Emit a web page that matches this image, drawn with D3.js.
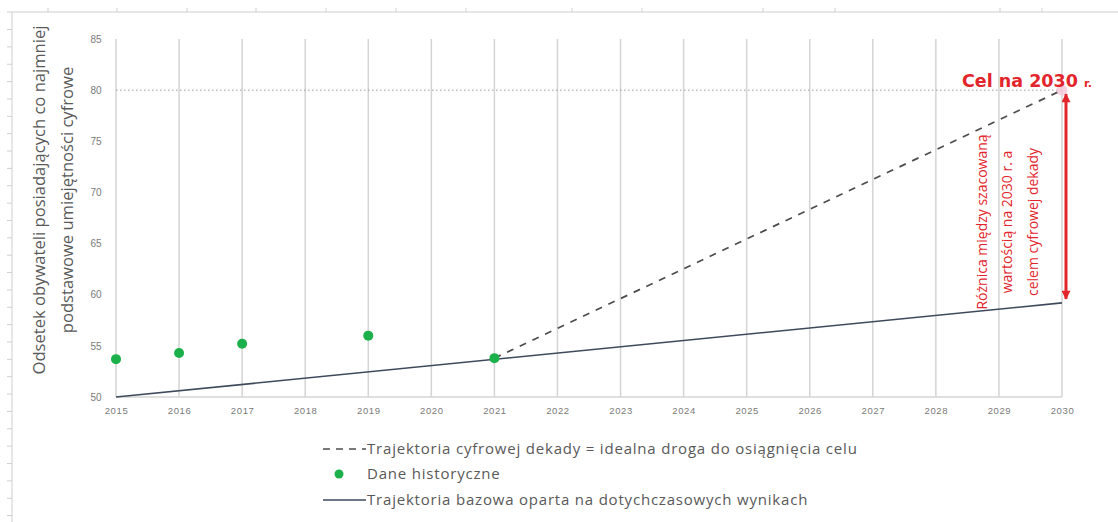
<!DOCTYPE html>
<html>
<head>
<meta charset="utf-8">
<script src="https://cdn.jsdelivr.net/npm/d3@7"></script>
<style>
  html, body { margin: 0; padding: 0; background: #fff; }
  svg { display: block; }
</style>
</head>
<body>
<svg id="chart" width="1118" height="522"></svg>
<script>
// Years on the horizontal axis
const years = d3.range(2015, 2031);
const yTicks = [50, 55, 60, 65, 70, 75, 80, 85];

// Historical observations
const histYears = [2015, 2016, 2017, 2019, 2021];
const histValues = [53.7, 54.3, 55.2, 56.0, 53.8];

// Baseline trajectory (based on results so far)
const baseYears = [2015, 2030];
const baseValues = [50.0, 59.2];

// Digital decade trajectory towards the 2030 target
const decadeYears = [2021, 2030];
const decadeValues = [53.8, 80];

const target = 80;
const targetYear = 2030;

// Spreadsheet frame ruler marks
const rulerX = [48, 117, 187, 256, 326, 396, 466, 572, 642, 763, 835, 1000, 1042];
const rulerRows = d3.range(29);

const svg = d3.select("#chart");
const grey = "#d4d4d4";
const textGrey = "#595959";
const red = "#e3242b";

// Spreadsheet frame
const frame = svg.append("g");
frame.append("line").attr("x1", 7).attr("x2", 1118).attr("y1", 12).attr("y2", 12)
  .attr("stroke", "#dedede").attr("stroke-width", 1.5);
frame.append("line").attr("x1", 12).attr("x2", 12).attr("y1", 12).attr("y2", 522)
  .attr("stroke", "#dedede").attr("stroke-width", 1.5);
frame.selectAll(".rx").data(rulerX).join("line")
  .attr("x1", d => d).attr("x2", d => d).attr("y1", 8).attr("y2", 12)
  .attr("stroke", "#cfcfcf").attr("stroke-width", 1);
frame.selectAll(".ry").data(rulerRows).join("line")
  .attr("x1", 7).attr("x2", 12)
  .attr("y1", i => 29.5 + i * 17.36).attr("y2", i => 29.5 + i * 17.36)
  .attr("stroke", "#cfcfcf").attr("stroke-width", 1);

const x = d3.scaleLinear().domain([2015, 2030]).range([116, 1062]);
const y = d3.scaleLinear().domain([50, 85]).range([397, 39]);

// Vertical gridlines
svg.append("g").selectAll("line").data(years).join("line")
  .attr("x1", d => x(d)).attr("x2", d => x(d))
  .attr("y1", y(85)).attr("y2", y(50))
  .attr("stroke", grey).attr("stroke-width", 1.5);

// Bottom axis line
svg.append("line").attr("x1", x(2015)).attr("x2", x(2030))
  .attr("y1", y(50)).attr("y2", y(50))
  .attr("stroke", grey).attr("stroke-width", 1.5);

// Y axis labels
const yAxis = d3.axisLeft(y).tickValues(yTicks).tickSize(0).tickPadding(0);
const gy = svg.append("g").attr("transform", `translate(${x(2015) - 12},0)`).call(yAxis);
gy.select(".domain").remove();
gy.selectAll("text").attr("fill", "#7a7a7a").style("font-family", "Liberation Sans, Arial, sans-serif")
  .style("font-size", "10px").attr("text-anchor", "middle").attr("dx", "-8");

// X axis labels
const xAxis = d3.axisBottom(x).tickValues(years).tickFormat(d3.format("d")).tickSize(0).tickPadding(10);
const gx = svg.append("g").attr("transform", `translate(0,${y(50)})`).call(xAxis);
gx.select(".domain").remove();
gx.selectAll("text").attr("fill", "#7a7a7a").style("font-family", "Liberation Sans, Arial, sans-serif")
  .style("font-size", "9.5px").style("letter-spacing", "0.6px");

// Target reference (dotted)
svg.append("line").attr("x1", x(2015)).attr("x2", x(2030))
  .attr("y1", y(target)).attr("y2", y(target))
  .attr("stroke", "#9a9a9a").attr("stroke-width", 1).attr("stroke-dasharray", "1.5,2.5");

const line = d3.line().x(d => x(d[0])).y(d => y(d[1]));

// Baseline trajectory
svg.append("path").datum(d3.zip(baseYears, baseValues)).attr("d", line)
  .attr("fill", "none").attr("stroke", "#3e4a5c").attr("stroke-width", 1.6);

// Digital decade trajectory
svg.append("path").datum(d3.zip(decadeYears, decadeValues)).attr("d", line)
  .attr("fill", "none").attr("stroke", "#4d4d4d").attr("stroke-width", 1.7)
  .attr("stroke-dasharray", "7,7");

// Historical points
svg.append("g").selectAll("circle").data(d3.zip(histYears, histValues)).join("circle")
  .attr("cx", d => x(d[0])).attr("cy", d => y(d[1])).attr("r", 5)
  .attr("fill", "#1cb04b");

// Target marker
svg.append("circle").attr("cx", x(targetYear)).attr("cy", y(target)).attr("r", 5.5)
  .attr("fill", "#f4c7d8").attr("opacity", 0.8);

// Gap arrow between baseline estimate and target
const defs = svg.append("defs");
defs.append("marker").attr("id", "ah").attr("viewBox", "0 0 10 10")
  .attr("refX", 9).attr("refY", 5).attr("markerWidth", 4).attr("markerHeight", 3)
  .attr("markerUnits", "strokeWidth").attr("orient", "auto-start-reverse")
  .append("path").attr("d", "M0,0 L10,5 L0,10 z").attr("fill", red);
const gapEnd = baseValues[1];
svg.append("line")
  .attr("x1", x(targetYear) + 4).attr("x2", x(targetYear) + 4)
  .attr("y1", y(target) + 4).attr("y2", y(gapEnd) - 4)
  .attr("stroke", red).attr("stroke-width", 3)
  .attr("marker-start", "url(#ah)").attr("marker-end", "url(#ah)");

// Target label
const tl = svg.append("text").attr("x", 962).attr("y", y(target) - 3)
  .attr("fill", red).style("font-family", "DejaVu Sans, Arial, sans-serif")
  .style("font-weight", "bold");
tl.append("tspan").style("font-size", "17.5px").text("Cel na 2030 ");
tl.append("tspan").style("font-size", "11px").text("r.");

// Gap annotation (rotated)
const gapLines = ["Różnica między szacowaną", "wartością na 2030 r. a", "celem cyfrowej dekady"];
const gapX = [987, 1012, 1038];
svg.append("g").selectAll("text").data(gapLines).join("text")
  .attr("transform", (d, i) => `translate(${gapX[i]},${222}) rotate(-90)`)
  .attr("text-anchor", "middle")
  .attr("fill", red).style("font-family", "Open Sans, Arial, sans-serif")
  .style("font-size", "14px").text(d => d);

// Y axis title
const titleLines = ["Odsetek obywateli posiadających co najmniej", "podstawowe umiejętności cyfrowe"];
const titleX = [45, 73];
svg.append("g").selectAll("text").data(titleLines).join("text")
  .attr("transform", (d, i) => `translate(${titleX[i]},${200}) rotate(-90)`)
  .attr("text-anchor", "middle")
  .attr("fill", textGrey).style("font-family", "Open Sans, Arial, sans-serif")
  .style("font-size", "16.6px").text(d => d);

// Legend
const legend = svg.append("g").style("font-family", "Open Sans, Arial, sans-serif")
  .style("font-size", "15px").style("letter-spacing", "0.8px").attr("fill", textGrey);
legend.append("line").attr("x1", 323).attr("x2", 366).attr("y1", 449).attr("y2", 449)
  .attr("stroke", "#4d4d4d").attr("stroke-width", 1.6).attr("stroke-dasharray", "7,6");
legend.append("text").attr("x", 367).attr("y", 449).attr("dy", "0.35em")
  .text("Trajektoria cyfrowej dekady = idealna droga do osiągnięcia celu");
legend.append("circle").attr("cx", 339).attr("cy", 474).attr("r", 4.5).attr("fill", "#1cb04b");
legend.append("text").attr("x", 367).attr("y", 474).attr("dy", "0.35em").text("Dane historyczne");
legend.append("line").attr("x1", 323).attr("x2", 366).attr("y1", 500).attr("y2", 500)
  .attr("stroke", "#3e4a5c").attr("stroke-width", 1.6);
legend.append("text").attr("x", 367).attr("y", 500).attr("dy", "0.35em")
  .text("Trajektoria bazowa oparta na dotychczasowych wynikach");
</script>
</body>
</html>
